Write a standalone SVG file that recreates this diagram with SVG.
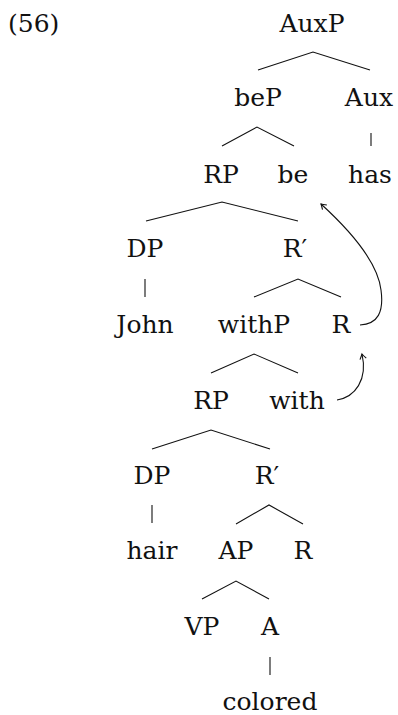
<svg xmlns="http://www.w3.org/2000/svg" width="398" height="715" viewBox="0 0 398 715">
<style>
text{font-family:"DejaVu Serif","Liberation Serif",serif;font-size:25px;fill:#111;text-anchor:middle}
.e{stroke:#111;stroke-width:1.1;fill:none}
.m{stroke:#111;stroke-width:1.1;fill:none}
</style>
<defs>
<marker id="ah" viewBox="-6 -4 8 8" markerWidth="8" markerHeight="8" refX="0" refY="0" orient="auto" markerUnits="userSpaceOnUse">
<path d="M-5,-3.2 Q-1.5,-0.8 0,0 Q-1.5,0.8 -5,3.2" class="m"/>
</marker>
</defs>
<rect width="398" height="715" fill="#fff"/>
<text x="8" y="32" style="text-anchor:start">(56)</text>
<g id="connectors" class="e">
<path d="M258,70 L313,52 L370,70"/>
<path d="M371,133 L371,146"/>
<path d="M222,146 L257,127 L294,146"/>
<path d="M146,221 L222,202 L298,221"/>
<path d="M145,279 L145,297"/>
<path d="M254,297 L298,279 L341,297"/>
<path d="M211,373 L254,354 L298,373"/>
<path d="M152,449 L211,430 L270,449"/>
<path d="M152,505 L152,523"/>
<path d="M236,524 L269,505 L303,524"/>
<path d="M202,599 L236,581 L269,599"/>
<path d="M270,657 L270,675"/>
<path d="M360,325 C378,324 384,312 381,290 C378,265 355,235 321,204" marker-end="url(#ah)"/>
<path d="M337,400 C355,397 368,380 362,354" marker-end="url(#ah)"/>
</g>
<g id="AuxP"><text x="312" y="32">AuxP</text></g>
<g id="beP"><text x="258" y="106">beP</text></g>
<g id="Aux"><text x="369" y="106">Aux</text></g>
<g id="RP1"><text x="221" y="183">RP</text></g>
<g id="be"><text x="293" y="183">be</text></g>
<g id="has"><text x="370" y="183">has</text></g>
<g id="DP1"><text x="145" y="257">DP</text></g>
<g id="Rbar1"><text x="295" y="257">R′</text></g>
<g id="John"><text x="145" y="333">John</text></g>
<g id="withP"><text x="254" y="333">withP</text></g>
<g id="R1"><text x="341" y="333">R</text></g>
<g id="RP2"><text x="211" y="409">RP</text></g>
<g id="with"><text x="297" y="409">with</text></g>
<g id="DP2"><text x="152" y="484">DP</text></g>
<g id="Rbar2"><text x="267" y="484">R′</text></g>
<g id="hair"><text x="152" y="559">hair</text></g>
<g id="AP"><text x="236" y="559">AP</text></g>
<g id="R2"><text x="303" y="559">R</text></g>
<g id="VP"><text x="202" y="635">VP</text></g>
<g id="A"><text x="270" y="635">A</text></g>
<g id="colored"><text x="270" y="710">colored</text></g>
</svg>
